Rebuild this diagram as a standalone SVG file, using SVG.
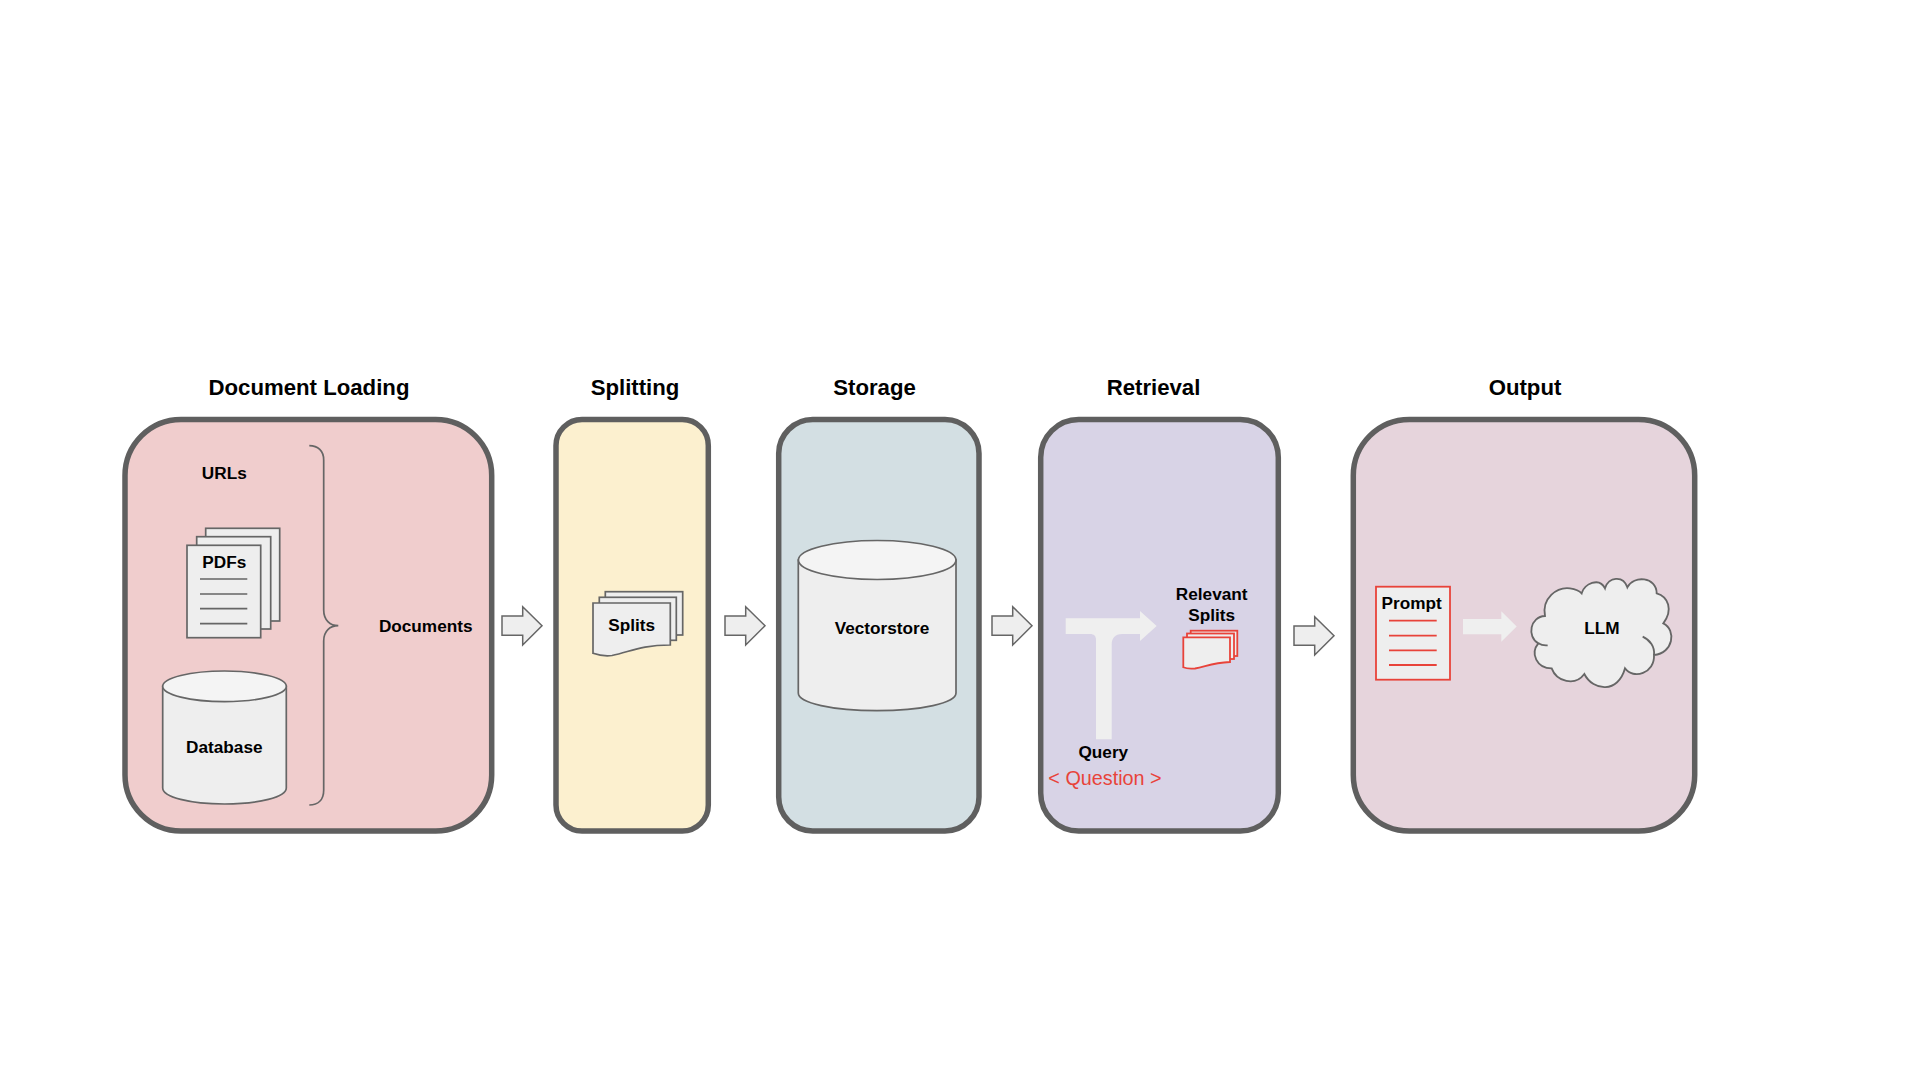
<svg xmlns="http://www.w3.org/2000/svg" width="1920" height="1080" viewBox="0 0 1920 1080">
<style>
text{font-family:"Liberation Sans",Arial,sans-serif;text-anchor:middle;fill:#000}
.t{font-size:22.2px;font-weight:700}
.l{font-size:17.2px;font-weight:700}
.q{font-size:19.8px;fill:#e8433a}
.panel{stroke:#5f5f5f;stroke-width:5.5}
.s{fill:#eeeeee;stroke:#666;stroke-width:1.7}
.top{fill:#f4f4f4;stroke:#666;stroke-width:1.7}
.ln{fill:none;stroke:#666;stroke-width:1.7}
.r{fill:#eeeeee;stroke:#e8433a;stroke-width:1.8}
.rl{fill:none;stroke:#e8433a;stroke-width:1.8}
.flow{fill:#efefef;stroke:none}
.blk{fill:#eeeeee;stroke:#666;stroke-width:1.5}
</style>
<rect width="1920" height="1080" fill="#ffffff"/>

<g id="document-loading">
<rect class="panel" x="125" y="419.5" width="366.7" height="411.5" rx="56" fill="#f0cdcd"/>
<text class="t" x="309" y="394.5">Document Loading</text>
<text class="l" x="224.3" y="478.7">URLs</text>
<g id="pdfs">
<rect class="s" x="205.7" y="528.3" width="74" height="92.7"/>
<rect class="s" x="196.7" y="536.7" width="74" height="92.3"/>
<rect class="s" x="187" y="545.3" width="73.7" height="92.4"/>
<text class="l" x="224.3" y="567.7">PDFs</text>
<path class="ln" d="M200 579H247.3M200 594H247.3M200 608.7H247.3M200 623.7H247.3"/>
</g>
<g id="database">
<path class="s" d="M162.7 686.3V788C162.7 797 190 804 224.5 804S286.3 797 286.3 788V686.3Z"/>
<ellipse class="top" cx="224.5" cy="686.3" rx="61.8" ry="15.3"/>
<text class="l" x="224.3" y="752.7">Database</text>
</g>
<path id="brace" class="ln" d="M309.3 445.7C318 445.7 323.7 451 323.7 460V610C323.7 620 330 625.7 338.3 625.7C330 625.7 323.7 631 323.7 641V790C323.7 800 318 805 309.3 805"/>
<text class="l" x="425.7" y="631.7">Documents</text>
</g>

<g id="splitting">
<rect class="panel" x="556" y="419.5" width="152.3" height="411.5" rx="26" fill="#fcf0cf"/>
<text class="t" x="635" y="394.5">Splitting</text>
<rect class="s" x="605.3" y="591.7" width="77.4" height="43.3"/>
<rect class="s" x="599.3" y="597.3" width="77" height="43"/>
<path class="s" d="M593 603H670.3V645C640 645 630 652 612 655.5C604 656.5 598 655 593 653.3Z"/>
<text class="l" x="631.7" y="631">Splits</text>
</g>

<g id="storage">
<rect class="panel" x="778.7" y="419.5" width="200.3" height="411.5" rx="34" fill="#d3dfe3"/>
<text class="t" x="874.5" y="394.5">Storage</text>
<path class="s" d="M798.3 560V693C798.3 703 833 710.7 877 710.7S956 703 956 693V560Z"/>
<ellipse class="top" cx="877.2" cy="560" rx="78.8" ry="19.5"/>
<text class="l" x="882" y="634.2">Vectorstore</text>
</g>

<g id="retrieval">
<rect class="panel" x="1040.7" y="419.5" width="237.6" height="411.5" rx="38" fill="#d8d3e6"/>
<text class="t" x="1153.5" y="394.5">Retrieval</text>
<text class="l" x="1211.7" y="599.7">Relevant</text>
<text class="l" x="1211.7" y="621.3">Splits</text>
<g id="relevant-splits">
<rect class="r" x="1190.7" y="630.7" width="46.6" height="25.3"/>
<rect class="r" x="1187" y="633.5" width="47" height="25.5"/>
<path class="r" d="M1183.3 637.3H1230V662C1212 662.5 1205 667 1195 668.5C1190 669 1186 668.5 1183.3 667.3Z"/>
</g>
<text class="l" x="1103.3" y="757.8">Query</text>
<text class="q" x="1105" y="785">&lt; Question &gt;</text>
</g>

<g id="output">
<rect class="panel" x="1353.3" y="419.5" width="341.4" height="411.5" rx="56" fill="#e6d4dc"/>
<text class="t" x="1525" y="394.5">Output</text>
<g id="prompt">
<rect class="r" x="1376" y="586.7" width="74" height="93"/>
<text class="l" x="1411.7" y="609">Prompt</text>
<path class="rl" d="M1389 620.7H1436.7M1389 635.7H1436.7M1389 650.3H1436.7M1389 665H1436.7"/>
</g>
<g id="llm">
<path transform="translate(1340 360) scale(.33333)" fill="#eeeeee" stroke="#666" stroke-width="5.5" d="M615 768C605 715 650 680 690 685C705 687 718 692 725 700C732 672 778 650 795 685C805 650 850 645 862 682C880 645 950 650 950 700C985 710 1000 750 970 790C1010 810 1000 880 942 885C945 940 880 960 855 925C835 1000 760 995 733 942C705 980 650 965 635 925C590 925 570 880 595 850C560 830 570 770 615 768Z"/>
<path transform="translate(1340 360) scale(.33333)" fill="none" stroke="#666" stroke-width="5.5" d="M908 830C930 840 945 860 942 885M595 850C603 855 612 857 623 856"/>
<text class="l" x="1602" y="633.8">LLM</text>
</g>
</g>

<g id="connectors">
<path class="blk" d="M502 616H522.7V606.7L542 625.7L522.7 645V635.3H502Z"/>
<path class="blk" d="M725 616H745.7V606.7L765 625.7L745.7 645V635.3H725Z"/>
<path class="blk" d="M992 616H1012.7V606.7L1032 625.7L1012.7 645V635.3H992Z"/>
<path class="blk" d="M1294 626H1314.7V616.7L1334 635.7L1314.7 655V645.3H1294Z"/>
<path class="flow" d="M1065.7 618.3H1140V611L1156.7 626L1140 641V634H1122C1115 634 1111.7 638 1111.7 645V739.3H1096V640C1096 636 1094 634 1090 634H1065.7Z"/>
<path class="flow" d="M1463 619H1501.3V611.3L1516.7 626.5L1501.3 641.7V634.3H1463Z"/>
</g>
</svg>
